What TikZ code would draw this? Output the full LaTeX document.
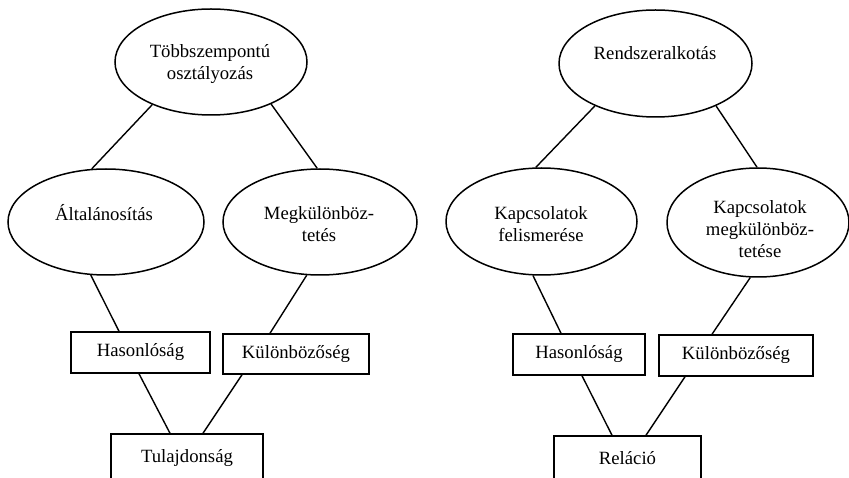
\documentclass[tikz,border=0pt]{standalone}
\usepackage{fontspec}
\setmainfont{Liberation Serif}
\usetikzlibrary{shapes.geometric}
\begin{document}
\begin{tikzpicture}[x=1pt,y=-1pt,
  ell/.style={draw,ellipse,line width=1.5pt,inner sep=0pt},
  box/.style={draw,rectangle,line width=1.5pt,inner sep=0pt},
  lbl/.style={align=center,inner sep=0pt,font=\fontsize{18.7}{22}\selectfont},
  conn/.style={line width=1.4pt}]
\useasboundingbox (0,0) rectangle (849,478);
\clip (0,0) rectangle (849,478);
% left part
\node[ell,minimum width=192pt,minimum height=106pt] (t1) at (211,62) {};
\node[lbl] (t1t) at (210,64) {Többszempontú\\osztályozás};
\node[ell,minimum width=196pt,minimum height=106pt] (a1) at (106,222) {};
\node[lbl] (a1t) at (104,213) {Általánosítás};
\node[ell,minimum width=194pt,minimum height=106pt] (m1) at (320,222) {};
\node[lbl] (m1t) at (319,224) {Megkülönböz-\\tetés};
\node[box,minimum width=139pt,minimum height=41pt] (h1) at (140.5,352.5) {};
\node[lbl] (h1t) at (140.5,352.5) {Hasonlóság};
\node[box,minimum width=146pt,minimum height=40pt] (k1) at (296,354) {};
\node[lbl] (k1t) at (296,354) {Különbözőség};
\node[box,minimum width=152pt,minimum height=90pt] (p1) at (187,479) {};
\node[lbl] (p1t) at (187,458) {Tulajdonság};
\draw[conn] (t1.216) -- (a1.105);
\draw[conn] (t1.325) -- (m1.93);
\draw[conn] (a1.254) -- ([xshift=-21.5pt]h1.north);
\draw[conn] (m1.256) -- ([xshift=-26pt]k1.north);
\draw[conn] ([xshift=-1.5pt]h1.south) -- ([xshift=-17pt]p1.north);
\draw[conn] ([xshift=-54pt]k1.south) -- ([xshift=16pt]p1.north);
% right part
\node[ell,minimum width=193pt,minimum height=107pt] (r2) at (655.5,63.5) {};
\node[lbl] (r2t) at (655,53) {Rendszeralkotás};
\node[ell,minimum width=191pt,minimum height=107pt] (f2) at (541.5,221.5) {};
\node[lbl] (f2t) at (541,224) {Kapcsolatok\\felismerése};
\node[ell,minimum width=182pt,minimum height=109pt] (m2) at (758,222.5) {};
\node[lbl] (m2t) at (760,229) {Kapcsolatok\\megkülönböz-\\tetése};
\node[box,minimum width=132pt,minimum height=41pt] (h2) at (579,354.5) {};
\node[lbl] (h2t) at (579,354.5) {Hasonlóság};
\node[box,minimum width=154pt,minimum height=41pt] (k2) at (736,355.5) {};
\node[lbl] (k2t) at (736,355.5) {Különbözőség};
\node[box,minimum width=147pt,minimum height=90pt] (p2) at (627.5,481) {};
\node[lbl] (p2t) at (627.5,458) {Reláció};
\draw[conn] (r2.215) -- (f2.96);
\draw[conn] (r2.325) -- (m2.91);
\draw[conn] (f2.261) -- ([xshift=-18pt]h2.north);
\draw[conn] (m2.262) -- ([xshift=-24pt]k2.north);
\draw[conn] ([xshift=3pt]h2.south) -- ([xshift=-15.5pt]p2.north);
\draw[conn] ([xshift=-51pt]k2.south) -- ([xshift=18.5pt]p2.north);
\end{tikzpicture}
\end{document}
